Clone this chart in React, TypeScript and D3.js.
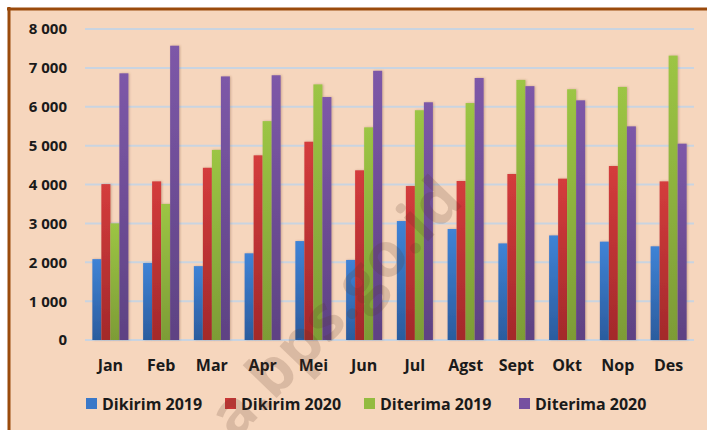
import React from "react";
import * as d3 from "d3";

const months = ["Jan", "Feb", "Mar", "Apr", "Mei", "Jun", "Jul", "Agst", "Sept", "Okt", "Nop", "Des"];
const seriesNames = ["Dikirim 2019", "Dikirim 2020", "Diterima 2019", "Diterima 2020"];
const dikirim2019 = [2080, 1980, 1900, 2230, 2545, 2060, 3060, 2855, 2485, 2690, 2530, 2410];
const dikirim2020 = [4010, 4080, 4430, 4750, 5100, 4365, 3960, 4090, 4270, 4150, 4475, 4080];
const diterima2019 = [3000, 3500, 4890, 5630, 6575, 5470, 5910, 6095, 6690, 6450, 6510, 7315];
const diterima2020 = [6860, 7570, 6780, 6810, 6250, 6925, 6115, 6740, 6530, 6165, 5495, 5050];
const yTicks = [0, 1000, 2000, 3000, 4000, 5000, 6000, 7000, 8000];
const tickLabels = ["0", "1 000", "2 000", "3 000", "4 000", "5 000", "6 000", "7 000", "8 000"];
const watermark = "a.bps.go.id";

const seriesValues = [dikirim2019, dikirim2020, diterima2019, diterima2020];
const colorsTop = ["#3F83D6", "#D43C3C", "#9CC544", "#7D58A8"];
const colorsBottom = ["#2B5C9E", "#A3292B", "#7D9C36", "#5E4283"];
const legendColors = ["#3A78C8", "#C83636", "#93BB40", "#7650A0"];

const W = 707;
const H = 430;

export default function App() {
  const x = d3.scaleBand<string>().domain(months).range([85, 694]).paddingInner(0.29).paddingOuter(0.145);
  const inner = d3.scaleBand<number>().domain([0, 1, 2, 3]).range([0, x.bandwidth()]).padding(0);
  const y = d3.scaleLinear().domain([0, 8000]).range([340, 29]);
  const font = "'Open Sans', 'DejaVu Sans', sans-serif";
  const legendX = [86, 225, 364, 519];

  return (
    <svg width={W} height={H} style={{ position: "absolute", left: 0, top: 0, display: "block" }}>
      <defs>
        {seriesValues.map((_, i) => (
          <linearGradient key={i} id={`g${i}`} x1="0" y1="0" x2="0" y2="1">
            <stop offset="0" stopColor={colorsTop[i]} />
            <stop offset="1" stopColor={colorsBottom[i]} />
          </linearGradient>
        ))}
        <filter id="sh" x="-30%" y="-5%" width="160%" height="110%">
          <feDropShadow dx="1" dy="0" stdDeviation="0.8" floodColor="#7a4a30" floodOpacity="0.35" />
        </filter>
      </defs>
      <rect x={0} y={0} width={W} height={H} fill="#ffffff" />
      <rect x={8} y={8} width={W - 8} height={H - 8} fill="#F6D6BD" />
      <line x1={9} y1={7} x2={9} y2={H} stroke="#9A4A0C" strokeWidth={3} />
      <line x1={7} y1={9} x2={W} y2={9} stroke="#9A4A0C" strokeWidth={3} />

      {yTicks.map((t) => (
        <line key={t} x1={85} x2={694} y1={y(t)} y2={y(t)} stroke="#C9D4E1" strokeWidth={2} />
      ))}
      {yTicks.map((t, i) => (
        <text key={"l" + t} x={67} y={y(t)} dy="0.36em" textAnchor="end" fontFamily={font} fontWeight="bold" fontSize={15} fill="#1a1a1a">
          {tickLabels[i]}
        </text>
      ))}

      {months.map((m, mi) => (
        <g key={m}>
          {seriesValues.map((vals, si) => {
            const bx = (x(m) as number) + (inner(si) as number);
            const top = y(vals[mi]);
            return (
              <rect
                key={si}
                x={bx}
                y={top}
                width={inner.bandwidth()}
                height={y(0) - top}
                fill={`url(#g${si})`}
                filter="url(#sh)"
              />
            );
          })}
          <text
            x={(x(m) as number) + x.bandwidth() / 2}
            y={365}
            dy="0.36em"
            textAnchor="middle"
            fontFamily={font}
            fontWeight="bold"
            fontSize={16}
            fill="#1a1a1a"
          >
            {m}
          </text>
        </g>
      ))}

      {seriesNames.map((s, i) => (
        <g key={s}>
          <rect x={legendX[i]} y={398} width={11} height={11} fill={legendColors[i]} />
          <text x={legendX[i] + 16} y={404} dy="0.36em" fontFamily={font} fontWeight="bold" fontSize={16} fill="#1a1a1a">
            {s}
          </text>
        </g>
      ))}

      <text
        x={0}
        y={0}
        transform="translate(350,322) rotate(-46)"
        textAnchor="middle"
        fontFamily={font}
        fontWeight="bold"
        fontSize={62}
        fill="#5a3828"
        fillOpacity={0.18}
      >
        {watermark}
      </text>
    </svg>
  );
}
